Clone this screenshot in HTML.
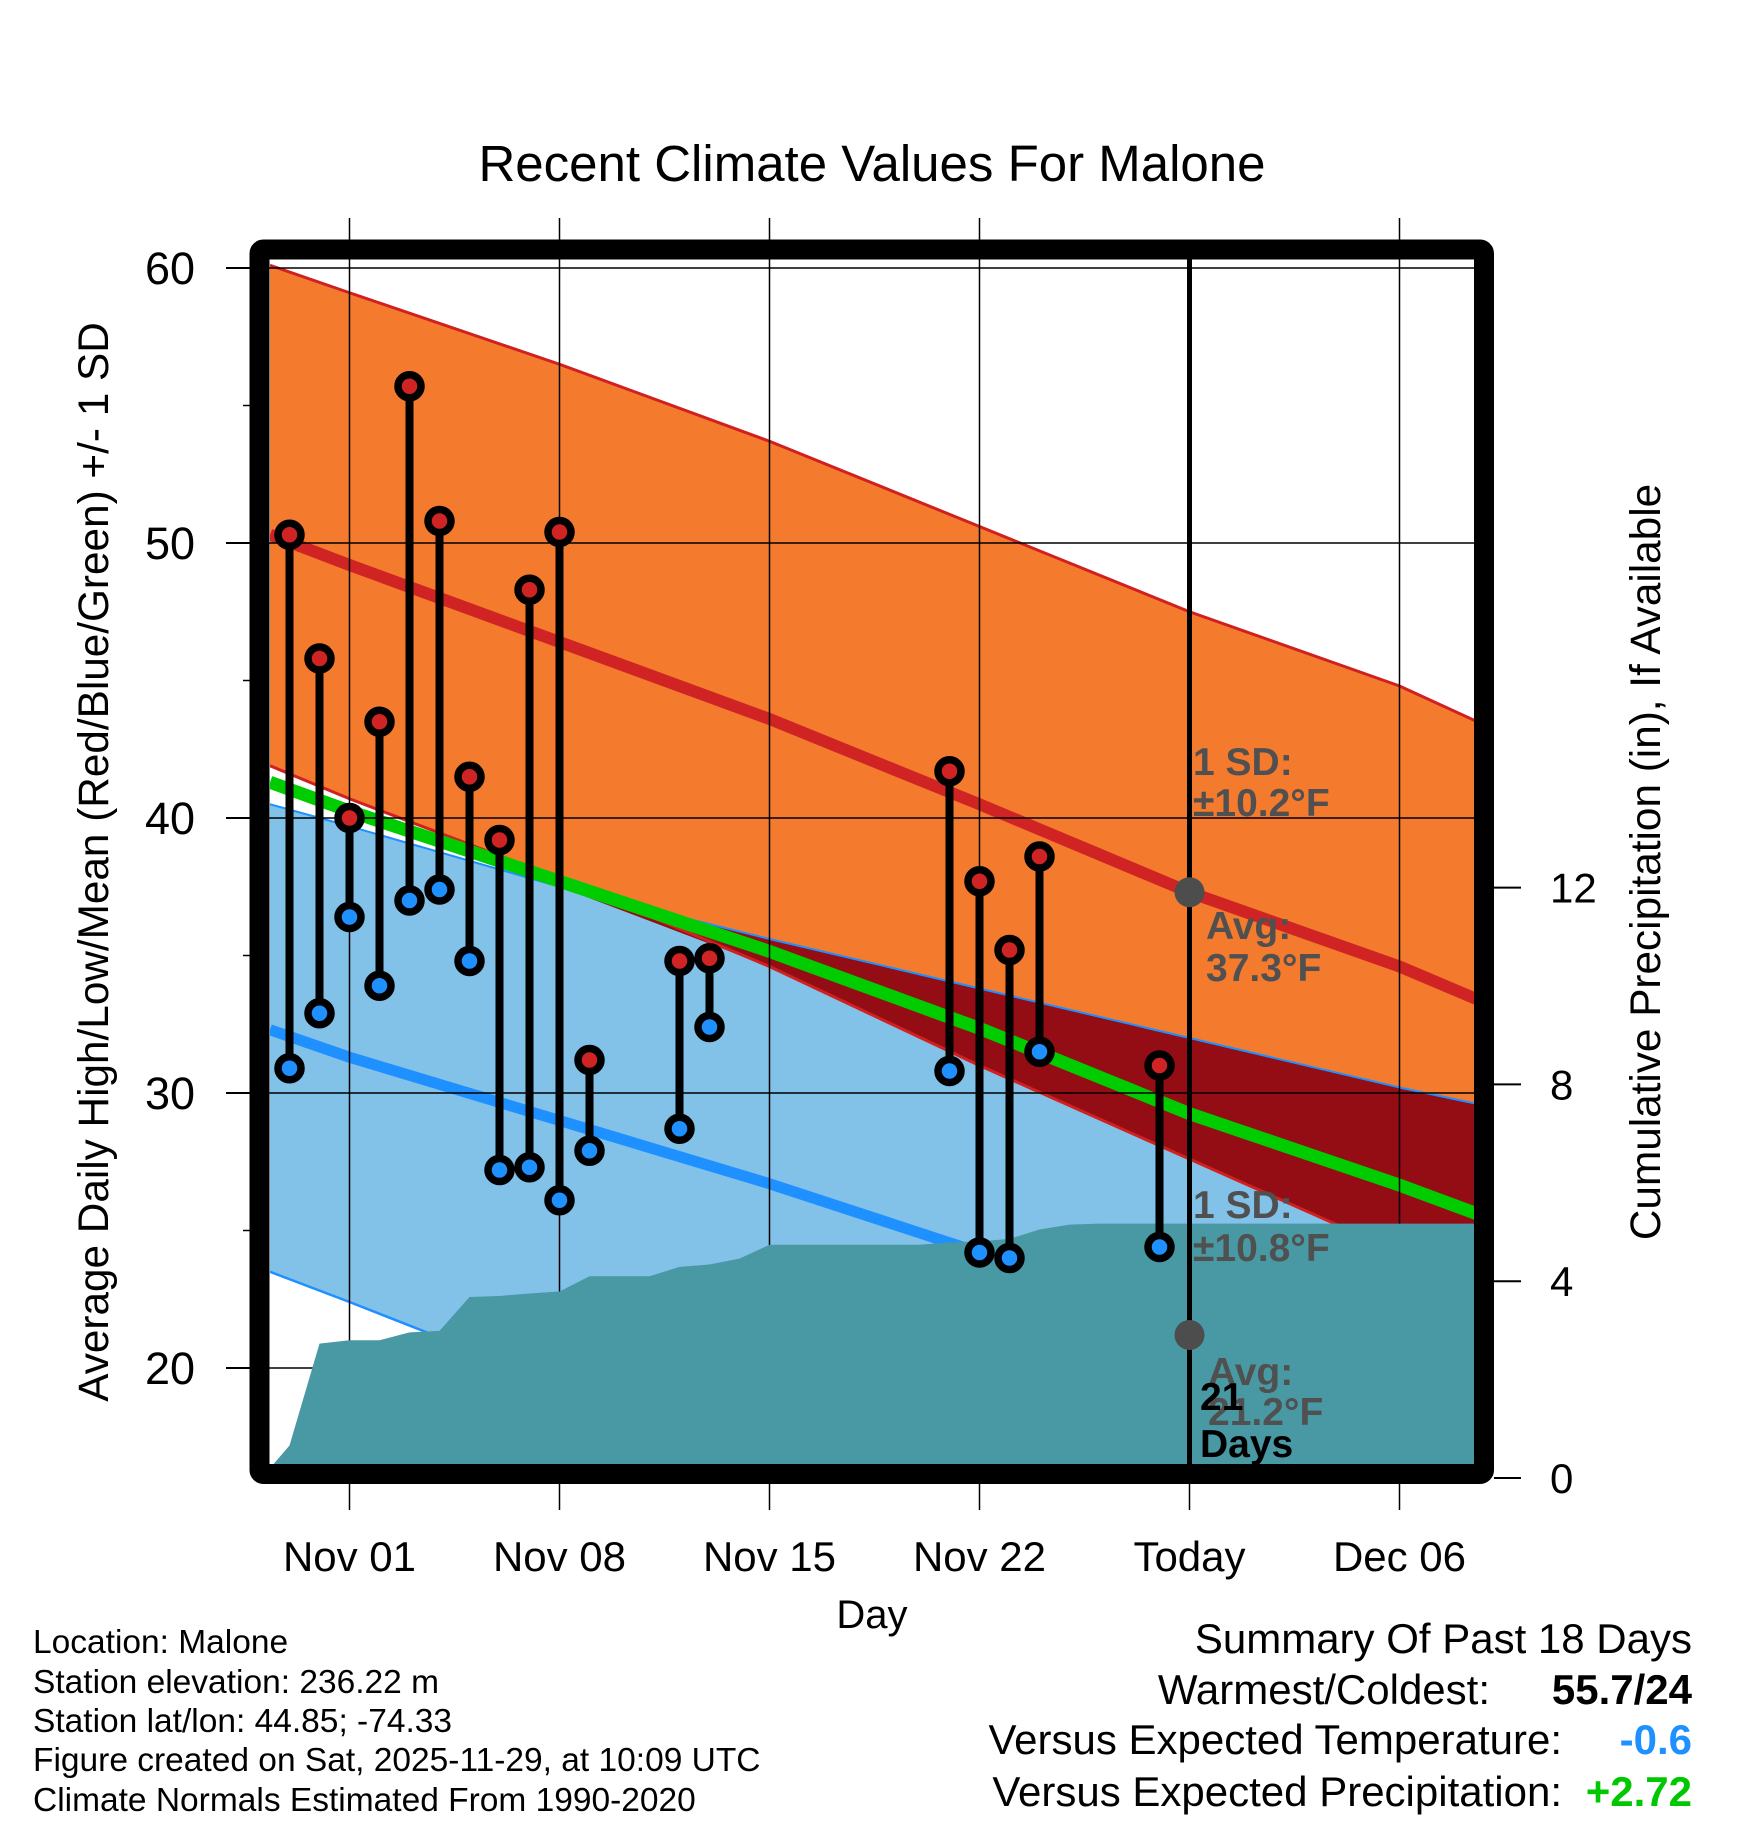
<!DOCTYPE html>
<html><head><meta charset="utf-8"><style>
html,body{margin:0;padding:0;background:#fff}
svg{display:block}
text{font-family:"Liberation Sans",sans-serif}
</style></head><body>
<svg id="chart" width="1748" height="1828" viewBox="0 0 1748 1828" xmlns="http://www.w3.org/2000/svg">
<defs><clipPath id="plotClip"><rect x="270" y="260" width="1208" height="1208"/></clipPath></defs>
<g id="bands" clip-path="url(#plotClip)"></g>
<g id="grid"></g>
<g id="precip" clip-path="url(#plotClip)"></g>
<g id="marks"></g>
<g id="axes"></g>
<text x="872" y="181" font-size="51" text-anchor="middle">Recent Climate Values For Malone</text>
<text x="872" y="1628" font-size="40" text-anchor="middle">Day</text>
<text transform="translate(108,862) rotate(-90)" font-size="42.3" text-anchor="middle">Average Daily High/Low/Mean (Red/Blue/Green) +/- 1 SD</text>
<text transform="translate(1660,862) rotate(-90)" font-size="42.3" text-anchor="middle">Cumulative Precipitation (in), If Available</text>
<g font-size="33.5">
<text x="33" y="1653">Location: Malone</text>
<text x="33" y="1693">Station elevation: 236.22 m</text>
<text x="33" y="1732">Station lat/lon: 44.85; -74.33</text>
<text x="33" y="1771">Figure created on Sat, 2025-11-29, at 10:09 UTC</text>
<text x="33" y="1811">Climate Normals Estimated From 1990-2020</text>
</g>
<g font-size="42">
<text x="1692" y="1653" text-anchor="end">Summary Of Past 18 Days</text>
<text x="1490" y="1704" text-anchor="end">Warmest/Coldest:</text>
<text x="1692" y="1704" text-anchor="end" font-weight="bold">55.7/24</text>
<text x="1562" y="1754" text-anchor="end">Versus Expected Temperature:</text>
<text x="1692" y="1754" text-anchor="end" font-weight="bold" fill="#1e90ff">-0.6</text>
<text x="1562" y="1806" text-anchor="end">Versus Expected Precipitation:</text>
<text x="1692" y="1806" text-anchor="end" font-weight="bold" fill="#00c800">+2.72</text>
</g>
</svg>
<script>
// normals (day offset from Nov 01)
const normDays = [-2.65, 0, 7, 14, 21, 28, 35, 37.6];
const hiUpper = [60.1, 59.1, 56.5, 53.7, 50.6, 47.5, 44.8, 43.5];
const hiMean  = [50.3, 49.2, 46.4, 43.6, 40.5, 37.3, 34.6, 33.4];
const hiLower = [41.9, 40.7, 37.8, 34.6, 31.0, 27.6, 24.2, 23.0];
const loUpper = [40.5, 39.7, 37.5, 35.6, 33.8, 32.0, 30.2, 29.6];
const loMean  = [32.3, 31.3, 29.0, 26.7, 24.2, 21.2, 18.7, 17.8];
const loLower = [23.5, 22.4, 19.4, 16.5, 13.5, 10.4, 7.6, 6.8];
// cumulative precip (in)
const precipDays = [-2.65,-2,-1,0,1,2,3,4,5,6,7,8,9,10,11,12,13,14,15,16,17,18,19,20,21,22,23,24,25,26,27,28,37.6];
const precipVals = [0.2,0.66,2.73,2.8,2.8,2.96,2.99,3.68,3.7,3.75,3.79,4.1,4.1,4.1,4.29,4.34,4.46,4.74,4.74,4.74,4.74,4.74,4.74,4.79,4.81,4.86,5.05,5.15,5.17,5.17,5.17,5.17,5.17];
// observations
const obsDays = [-2,-1,0,1,2,3,4,5,6,7,8,11,12,20,21,22,23,27];
const obsHigh = [50.3,45.8,40.0,43.5,55.7,50.8,41.5,39.2,48.3,50.4,31.2,34.8,34.9,41.7,37.7,35.2,38.6,31.0];
const obsLow  = [30.9,32.9,36.4,33.9,37.0,37.4,34.8,27.2,27.3,26.1,27.9,28.7,32.4,30.8,24.2,24.0,31.5,24.4];
const xTickDays = [0,7,14,21,28,35];
const xTickLabels = ["Nov 01","Nov 08","Nov 15","Nov 22","Today","Dec 06"];
const yTicks = [20,30,40,50,60];
const yMinor = [25,35,45,55];
const pTicks = [0,4,8,12];
const todayDay = 28;
const todayHi = 37.3, todayLo = 21.2;

const NS="http://www.w3.org/2000/svg";
const X = d => 349.5 + d*30;
const Y = t => 268 + (60-t)*27.5;
const P = p => 1478 - p*49.2;
function el(tag, attrs, parent){const e=document.createElementNS(NS,tag);for(const k in attrs)e.setAttribute(k,attrs[k]);parent.appendChild(e);return e;}
const pts = (arr) => normDays.map((d,i)=>X(d)+","+Y(arr[i]));
const bands=document.getElementById('bands');
let e;
e=el('polygon',{points:pts(hiUpper).concat(pts(hiLower).reverse()).join(' '),fill:'#f47a2e'},bands);


e=el('polygon',{points:pts(loUpper).concat(pts(loLower).reverse()).join(' '),fill:'#82c1e8'},bands);


const ovBottom = loUpper.map((v,i)=>Math.min(v,hiLower[i]));
e=el('polygon',{points:pts(loUpper).concat(pts(ovBottom).reverse()).join(' '),fill:'#940c14'},bands);


[[hiUpper,'#d02020',3,'high-upper-line'],[hiLower,'#d02020',3,'high-lower-line'],[loUpper,'#1e90ff',2,'low-upper-line'],[loLower,'#1e90ff',2.5,'low-lower-line']].forEach(a=>{
 const l=el('polyline',{points:pts(a[0]).join(' '),fill:'none',stroke:a[1],'stroke-width':a[2]},bands);
 
 
});
const meanAll = hiMean.map((v,i)=>(v+loMean[i])/2);
e=el('polyline',{points:pts(meanAll).join(' '),fill:'none',stroke:'#00cc00','stroke-width':13},bands);


e=el('polyline',{points:pts(loMean).join(' '),fill:'none',stroke:'#1e90ff','stroke-width':11},bands);


e=el('polyline',{points:pts(hiMean).join(' '),fill:'none',stroke:'#d02424','stroke-width':12},bands);



const grid=document.getElementById('grid');
xTickDays.forEach((d,i)=>{
 if(d===todayDay) return;
 const l=el('line',{x1:X(d),x2:X(d),y1:218,y2:1510,stroke:'#000','stroke-width':1.5},grid);
 
 
});
yTicks.forEach(t=>{
 const l=el('line',{x1:228,x2:1478,y1:Y(t),y2:Y(t),stroke:'#000','stroke-width':1.5},grid);
 
 
});

const pr=document.getElementById('precip');
const pp=precipDays.map((d,i)=>X(d)+","+P(precipVals[i]));
pp.push(X(37.6)+","+P(0)); pp.push(X(-2.65)+","+P(0));
e=el('polygon',{points:pp.join(' '),fill:'#4899a3'},pr);



const marks=document.getElementById('marks');
e=el('line',{x1:X(todayDay),x2:X(todayDay),y1:250,y2:1468,stroke:'#000','stroke-width':5},marks);


obsDays.forEach((d,i)=>{
 const s=el('line',{x1:X(d),x2:X(d),y1:Y(obsHigh[i]),y2:Y(obsLow[i]),stroke:'#000','stroke-width':8},marks);
 
 
});
obsDays.forEach((d,i)=>{
 const h=el('circle',{cx:X(d),cy:Y(obsHigh[i]),r:11.5,fill:'#d02424',stroke:'#000','stroke-width':7.5},marks);
 
 
 const l=el('circle',{cx:X(d),cy:Y(obsLow[i]),r:11.5,fill:'#1e90ff',stroke:'#000','stroke-width':7.5},marks);
 
 
});
e=el('circle',{cx:X(todayDay),cy:Y(todayHi),r:15,fill:'#4d4d4d'},marks);


e=el('circle',{cx:X(todayDay),cy:Y(todayLo),r:15,fill:'#4d4d4d'},marks);


const anns=[[1193,775,'1 SD:','#505050'],[1193,816,'±10.2°F','#505050'],[1206,939,'Avg:','#505050'],[1206,981,'37.3°F','#505050'],
 [1193,1218,'1 SD:','#505050'],[1193,1261,'±10.8°F','#505050'],[1208,1385,'Avg:','#505050'],[1208,1425,'21.2°F','#505050'],
 [1200,1410,'21','#000'],[1200,1457,'Days','#000']];
anns.forEach(a=>{
 const t=el('text',{x:a[0],y:a[1],'font-size':39,'font-weight':'bold',fill:a[3]},marks);
 t.textContent=a[2];
 
 
});

const ax=document.getElementById('axes');
e=el('rect',{x:259.5,y:249.5,width:1224.5,height:1224.5,fill:'none',stroke:'#000','stroke-width':20,rx:4},ax);


yTicks.forEach(t=>{
 const l=el('line',{x1:226,x2:250,y1:Y(t),y2:Y(t),stroke:'#000','stroke-width':2},ax);
 
 
 const tx=el('text',{x:195,y:Y(t)+16,'font-size':45,'text-anchor':'end'},ax);
 tx.textContent=t;
 
 
});
yMinor.forEach(t=>{
 const l=el('line',{x1:243,x2:250,y1:Y(t),y2:Y(t),stroke:'#000','stroke-width':1.5},ax);
 
 
});
pTicks.forEach(p=>{
 const l=el('line',{x1:1494,x2:1521,y1:P(p),y2:P(p),stroke:'#000','stroke-width':2},ax);
 
 
 const tx=el('text',{x:1550,y:P(p)+15,'font-size':42},ax);
 tx.textContent=p;
 
 
});
xTickDays.forEach((d,i)=>{
 const tx=el('text',{x:X(d),y:1571,'font-size':42,'text-anchor':'middle'},ax);
 tx.textContent=xTickLabels[i];
 
 
});
e=el('line',{x1:X(todayDay),x2:X(todayDay),y1:1484,y2:1510,stroke:'#000','stroke-width':1.5},ax);


</script>
</body></html>
